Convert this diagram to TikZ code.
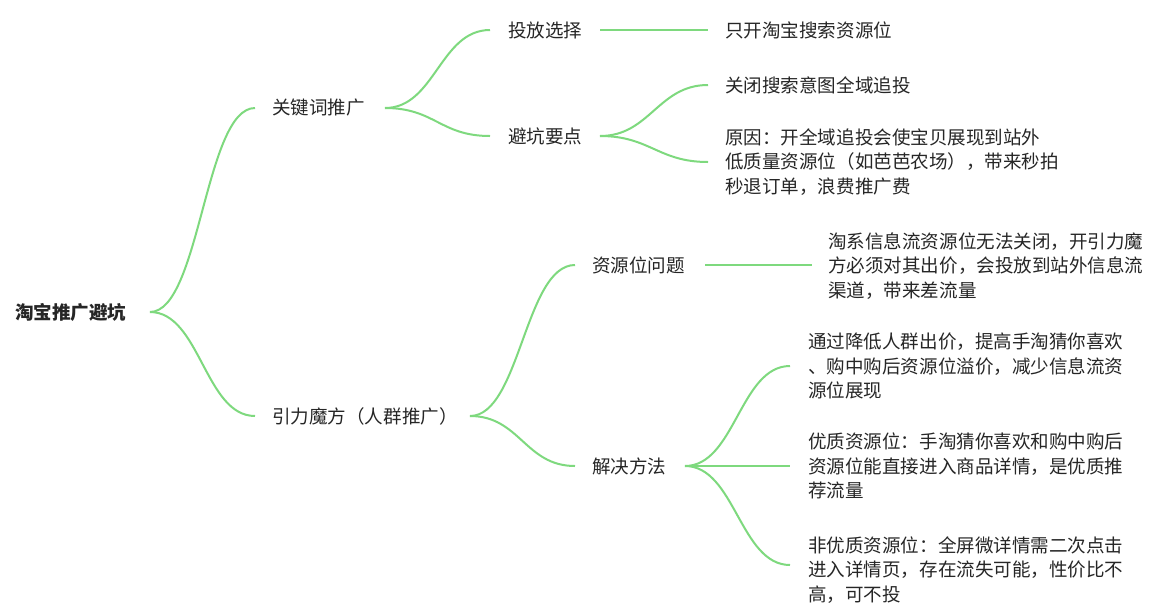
\documentclass[tikz,border=0pt]{standalone}
\usepackage{fontspec}
\newfontfamily\cjk{Noto Sans CJK SC}
\definecolor{mapgreen}{HTML}{7ED97E}
\tikzset{
  branch/.style={draw=mapgreen, line width=1.5pt},
  topic/.style={font=\cjk\fontsize{13.9}{18.2}\selectfont, inner sep=0pt, anchor=west, align=left, text=black!85},
}
\begin{document}
\begin{tikzpicture}[x=0.75pt,y=-0.75pt]
\useasboundingbox[fill=white] (0,0) rectangle (1171,615);
% root
\node[topic, font=\cjk\bfseries\fontsize{13.9}{18.2}\selectfont] (root) at (15,312) {淘宝推广避坑};
\coordinate (rootR) at (150,312);
% keyword branch
\node[topic] (kw) at (272,108) {关键词推广};
\coordinate (kwL) at (255,108);
\coordinate (kwR) at (385,108);
\node[topic] (tf) at (508,30) {投放选择};
\node[topic] (bk) at (508,136) {避坑要点};
\coordinate (tfL) at (490,30);
\coordinate (tfR) at (600,30);
\coordinate (bkL) at (490,136);
\coordinate (bkR) at (600,136);
\node[topic] (tf1) at (725,30) {只开淘宝搜索资源位};
\coordinate (tf1L) at (708,30);
\node[topic] (bk1) at (725,85) {关闭搜索意图全域追投};
\node[topic] (bk2) at (725,162) {原因：开全域追投会使宝贝展现到站外\\低质量资源位（如芭芭农场），带来秒拍\\秒退订单，浪费推广费};
\coordinate (bk1L) at (708,85);
\coordinate (bk2L) at (708,162);
% crowd branch
\node[topic] (yl) at (272,416) {引力魔方（人群推广）};
\coordinate (ylL) at (255,416);
\coordinate (ylR) at (470,416);
\node[topic] (zy) at (592,265) {资源位问题};
\node[topic] (jj) at (592,466) {解决方法};
\coordinate (zyL) at (575,265);
\coordinate (zyR) at (705,265);
\coordinate (jjL) at (575,466);
\coordinate (jjR) at (685,466);
\node[topic] (zy1) at (828,266) {淘系信息流资源位无法关闭，开引力魔\\方必须对其出价，会投放到站外信息流\\渠道，带来差流量};
\coordinate (zy1L) at (812,265);
\node[topic] (jj1) at (808,366) {通过降低人群出价，提高手淘猜你喜欢\\、购中购后资源位溢价，减少信息流资\\源位展现};
\node[topic] (jj2) at (808,466) {优质资源位：手淘猜你喜欢和购中购后\\资源位能直接进入商品详情，是优质推\\荐流量};
\node[topic] (jj3) at (808,570) {非优质资源位：全屏微详情需二次点击\\进入详情页，存在流失可能，性价比不\\高，可不投};
\coordinate (jj1L) at (790,366);
\coordinate (jj2L) at (790,466);
\coordinate (jj3L) at (790,565);
% connectors
\foreach \a/\b/\d in {rootR/kwL/50, rootR/ylL/50, kwR/tfL/50, kwR/bkL/50,
  bkR/bk1L/50, bkR/bk2L/50, ylR/zyL/50, ylR/jjL/50,
  jjR/jj1L/50, jjR/jj2L/50, jjR/jj3L/50}
  \draw[branch] (\a) .. controls +(\d,0) and +(-\d,0) .. (\b);
\draw[branch] (tfR) -- (tf1L);
\draw[branch] (zyR) -- (zy1L);
\end{tikzpicture}
\end{document}
